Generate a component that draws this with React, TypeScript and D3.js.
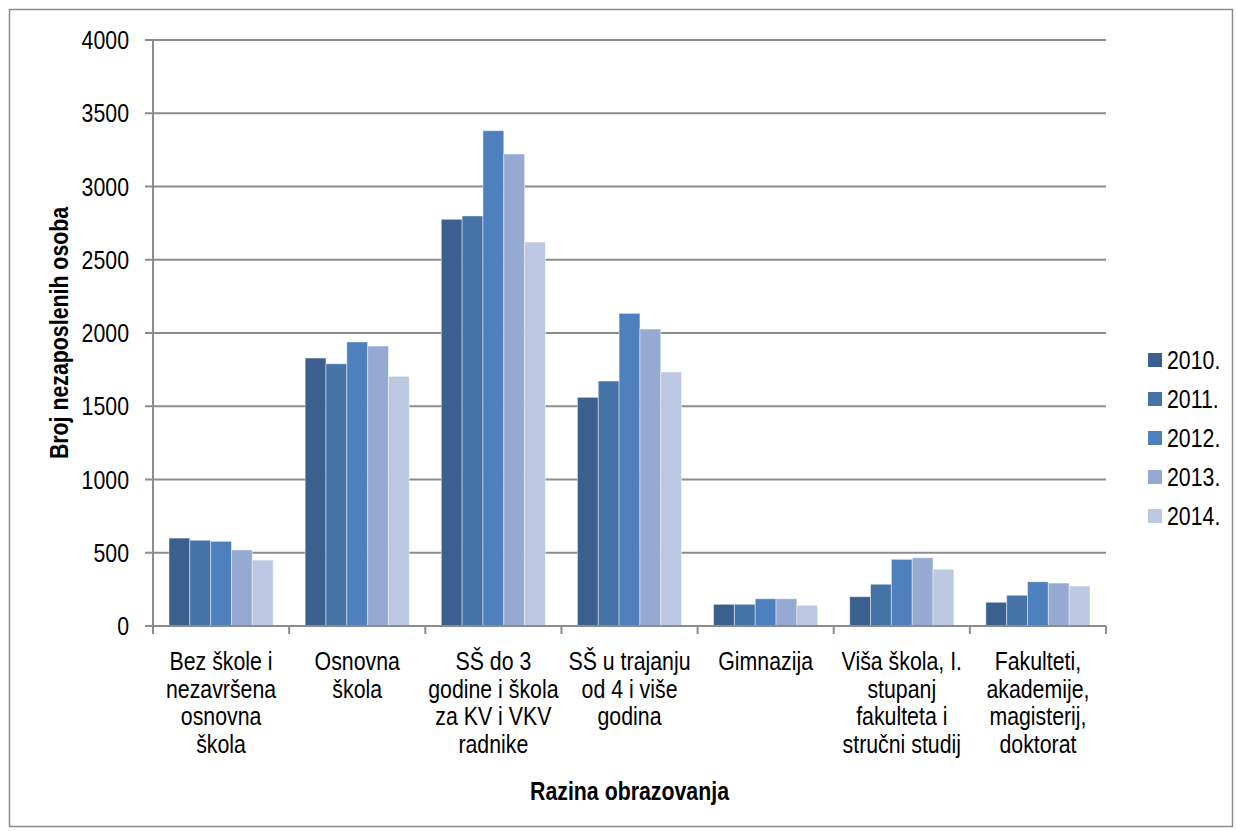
import React, { useEffect, useRef } from 'react';
import * as d3 from 'd3';

const categories: string[][] = [
  ['Bez škole i', 'nezavršena', 'osnovna', 'škola'],
  ['Osnovna', 'škola'],
  ['SŠ do 3', 'godine i škola', 'za KV i VKV', 'radnike'],
  ['SŠ u trajanju', 'od 4 i više', 'godina'],
  ['Gimnazija'],
  ['Viša škola, I.', 'stupanj', 'fakulteta i', 'stručni studij'],
  ['Fakulteti,', 'akademije,', 'magisterij,', 'doktorat'],
];

const years = ['2010.', '2011.', '2012.', '2013.', '2014.'];

const v2010 = [600, 1829, 2776, 1561, 148, 200, 162];
const v2011 = [585, 1790, 2799, 1672, 148, 285, 210];
const v2012 = [578, 1939, 3381, 2134, 186, 455, 302];
const v2013 = [519, 1911, 3222, 2027, 186, 466, 293];
const v2014 = [450, 1704, 2621, 1734, 141, 387, 273];

const series = [v2010, v2011, v2012, v2013, v2014];
const colors = ['#3B5F8F', '#4572A7', '#4E80BD', '#95A9D1', '#BCC8E1'];
const yTicks = [0, 500, 1000, 1500, 2000, 2500, 3000, 3500, 4000];

// no Arial Narrow here, so squeeze Liberation Sans horizontally
const FONT = "'Liberation Sans', Arial, sans-serif";
const SQUEEZE = 0.82;
const FS = 26;

const App: React.FC = () => {
  const svgRef = useRef<SVGSVGElement>(null);

  useEffect(() => {
    if (!svgRef.current) return;
    const svg = d3.select(svgRef.current);
    svg.selectAll('*').remove();

    const width = 1236;
    const height = 831;
    const plot = { left: 153, right: 1106, top: 40, bottom: 626 };

    const label = (x: number, y: number, txt: string, anchor: string, bold = false, rot = 0) => {
      svg.append('text')
        .attr('transform', `translate(${x},${y}) rotate(${rot}) scale(${SQUEEZE},1)`)
        .attr('text-anchor', anchor)
        .attr('font-family', FONT)
        .attr('font-size', FS)
        .attr('font-weight', bold ? 'bold' : 'normal')
        .attr('fill', '#000')
        .text(txt);
    };

    svg.append('rect')
      .attr('x', 9.5).attr('y', 9.5)
      .attr('width', width - 13).attr('height', height - 14)
      .attr('fill', '#fff')
      .attr('stroke', '#8c8c8c')
      .attr('stroke-width', 1.5);

    const idx = categories.map((_, i) => i);
    const x0 = d3.scaleBand<number>()
      .domain(idx)
      .range([plot.left, plot.right])
      .paddingInner(0.235)
      .paddingOuter(0.1175);
    const x1 = d3.scaleBand<number>()
      .domain(years.map((_, i) => i))
      .range([0, x0.bandwidth()]);
    const y = d3.scaleLinear().domain([0, 4000]).range([plot.bottom, plot.top]);
    const step = (plot.right - plot.left) / categories.length;

    // gridlines
    svg.append('g')
      .selectAll('line')
      .data(yTicks.filter(t => t > 0))
      .join('line')
      .attr('x1', plot.left - 8)
      .attr('x2', plot.right)
      .attr('y1', d => y(d))
      .attr('y2', d => y(d))
      .attr('stroke', '#8c8c8c')
      .attr('stroke-width', 2);

    // bars
    series.forEach((vals, s) => {
      svg.append('g')
        .selectAll('rect')
        .data(vals)
        .join('rect')
        .attr('x', (_, i) => (x0(i) ?? 0) + (x1(s) ?? 0))
        .attr('y', d => y(d))
        .attr('width', x1.bandwidth())
        .attr('height', d => plot.bottom - y(d))
        .attr('fill', colors[s])
        .attr('stroke', 'rgba(255,255,255,0.45)')
        .attr('stroke-width', 1);
    });

    // axes
    svg.append('line')
      .attr('x1', plot.left).attr('x2', plot.left)
      .attr('y1', plot.top).attr('y2', plot.bottom)
      .attr('stroke', '#8c8c8c').attr('stroke-width', 2);
    svg.append('line')
      .attr('x1', plot.left - 8).attr('x2', plot.right)
      .attr('y1', plot.bottom).attr('y2', plot.bottom)
      .attr('stroke', '#8c8c8c').attr('stroke-width', 2);
    svg.append('g')
      .selectAll('line')
      .data(d3.range(categories.length + 1))
      .join('line')
      .attr('x1', d => plot.left + d * step)
      .attr('x2', d => plot.left + d * step)
      .attr('y1', plot.bottom)
      .attr('y2', plot.bottom + 8)
      .attr('stroke', '#8c8c8c').attr('stroke-width', 2);

    // y tick labels
    yTicks.forEach(t => label(129, y(t) + 9, String(t), 'end'));

    // category labels
    categories.forEach((lines, i) => {
      const cx = (x0(i) ?? 0) + x0.bandwidth() / 2;
      lines.forEach((ln, k) => label(cx, 670 + k * 27.5, ln, 'middle'));
    });

    // axis titles
    label(68, (plot.top + plot.bottom) / 2, 'Broj nezaposlenih osoba', 'middle', true, -90);
    label((plot.left + plot.right) / 2, 800, 'Razina obrazovanja', 'middle', true);

    // legend
    years.forEach((yr, i) => {
      const ly = 360 + i * 39;
      svg.append('rect')
        .attr('x', 1148).attr('y', ly - 7)
        .attr('width', 14).attr('height', 14)
        .attr('fill', colors[i]);
      label(1167, ly + 9, yr, 'start');
    });
  }, []);

  return (
    <svg
      ref={svgRef}
      width={1236}
      height={831}
      style={{ position: 'absolute', left: 0, top: 0, display: 'block' }}
    />
  );
};

export default App;
